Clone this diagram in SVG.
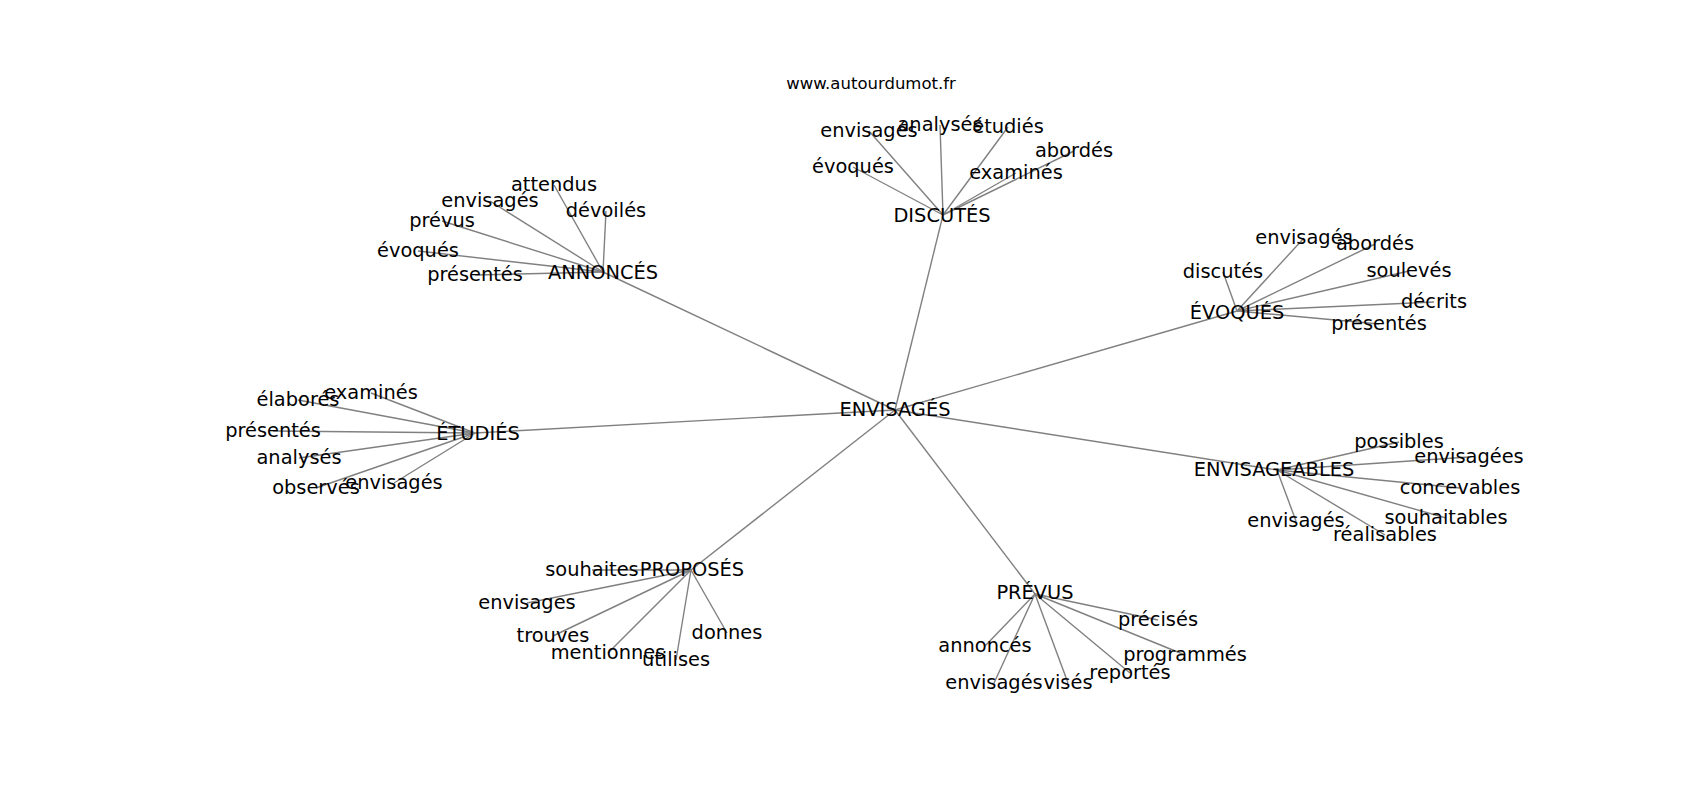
<svg xmlns="http://www.w3.org/2000/svg" width="1700" height="800" viewBox="0 0 1700 800">
<style>
.e{stroke:#808080;stroke-width:1.4;fill:none}
text{font-family:"DejaVu Sans","Liberation Sans",sans-serif;font-size:19.4px;fill:#000;text-anchor:middle}
.w{font-size:16.5px}
</style>
<rect width="1700" height="800" fill="#fff"/>
<g id="connectors">
<line class="e" x1="895" y1="410" x2="603" y2="272"/>
<line class="e" x1="895" y1="410" x2="943" y2="215"/>
<line class="e" x1="895" y1="410" x2="1237" y2="311"/>
<line class="e" x1="895" y1="410" x2="475" y2="433"/>
<line class="e" x1="895" y1="410" x2="1277" y2="470"/>
<line class="e" x1="895" y1="410" x2="691" y2="570"/>
<line class="e" x1="895" y1="410" x2="1035" y2="594"/>
<line class="e" x1="603" y1="272" x2="554" y2="185"/>
<line class="e" x1="603" y1="272" x2="490" y2="201"/>
<line class="e" x1="603" y1="272" x2="442" y2="221"/>
<line class="e" x1="603" y1="272" x2="606" y2="211"/>
<line class="e" x1="603" y1="272" x2="418" y2="251"/>
<line class="e" x1="603" y1="272" x2="475" y2="275"/>
<line class="e" x1="943" y1="215" x2="869" y2="131"/>
<line class="e" x1="943" y1="215" x2="940" y2="125"/>
<line class="e" x1="943" y1="215" x2="1008" y2="127"/>
<line class="e" x1="943" y1="215" x2="1074" y2="151"/>
<line class="e" x1="943" y1="215" x2="853" y2="167"/>
<line class="e" x1="943" y1="215" x2="1016" y2="173"/>
<line class="e" x1="1237" y1="311" x2="1304" y2="238"/>
<line class="e" x1="1237" y1="311" x2="1375" y2="244"/>
<line class="e" x1="1237" y1="311" x2="1223" y2="272"/>
<line class="e" x1="1237" y1="311" x2="1409" y2="271"/>
<line class="e" x1="1237" y1="311" x2="1434" y2="302"/>
<line class="e" x1="1237" y1="311" x2="1379" y2="324"/>
<line class="e" x1="475" y1="433" x2="298" y2="400"/>
<line class="e" x1="475" y1="433" x2="371" y2="393"/>
<line class="e" x1="475" y1="433" x2="273" y2="431"/>
<line class="e" x1="475" y1="433" x2="299" y2="458"/>
<line class="e" x1="475" y1="433" x2="316" y2="488"/>
<line class="e" x1="475" y1="433" x2="394" y2="483"/>
<line class="e" x1="1277" y1="470" x2="1399" y2="442"/>
<line class="e" x1="1277" y1="470" x2="1469" y2="457"/>
<line class="e" x1="1277" y1="470" x2="1460" y2="488"/>
<line class="e" x1="1277" y1="470" x2="1446" y2="518"/>
<line class="e" x1="1277" y1="470" x2="1296" y2="521"/>
<line class="e" x1="1277" y1="470" x2="1385" y2="535"/>
<line class="e" x1="691" y1="570" x2="592" y2="570"/>
<line class="e" x1="691" y1="570" x2="527" y2="603"/>
<line class="e" x1="691" y1="570" x2="553" y2="636"/>
<line class="e" x1="691" y1="570" x2="608" y2="653"/>
<line class="e" x1="691" y1="570" x2="676" y2="660"/>
<line class="e" x1="691" y1="570" x2="727" y2="633"/>
<line class="e" x1="1035" y1="594" x2="1158" y2="620"/>
<line class="e" x1="1035" y1="594" x2="1185" y2="655"/>
<line class="e" x1="1035" y1="594" x2="985" y2="646"/>
<line class="e" x1="1035" y1="594" x2="994" y2="683"/>
<line class="e" x1="1035" y1="594" x2="1068" y2="683"/>
<line class="e" x1="1035" y1="594" x2="1130" y2="673"/>
</g>
<g id="site"><text class="w" x="871" y="89">www.autourdumot.fr</text></g>
<g id="n-envisages-hub"><text x="895" y="416">ENVISAGÉS</text></g>
<g id="n-annonces"><text x="603" y="279">ANNONCÉS</text></g>
<g id="n-annonces-attendus"><text x="554" y="191">attendus</text></g>
<g id="n-annonces-envisages"><text x="490" y="207">envisagés</text></g>
<g id="n-annonces-prevus"><text x="442" y="227">prévus</text></g>
<g id="n-annonces-devoiles"><text x="606" y="217">dévoilés</text></g>
<g id="n-annonces-evoques"><text x="418" y="257">évoqués</text></g>
<g id="n-annonces-presentes"><text x="475" y="281">présentés</text></g>
<g id="n-discutes"><text x="942" y="222">DISCUTÉS</text></g>
<g id="n-discutes-envisages"><text x="869" y="137">envisagés</text></g>
<g id="n-discutes-analyses"><text x="940" y="131">analysés</text></g>
<g id="n-discutes-etudies"><text x="1008" y="133">étudiés</text></g>
<g id="n-discutes-abordes"><text x="1074" y="157">abordés</text></g>
<g id="n-discutes-evoques"><text x="853" y="173">évoqués</text></g>
<g id="n-discutes-examines"><text x="1016" y="179">examinés</text></g>
<g id="n-evoques"><text x="1237" y="319">ÉVOQUÉS</text></g>
<g id="n-evoques-envisages"><text x="1304" y="244">envisagés</text></g>
<g id="n-evoques-abordes"><text x="1375" y="250">abordés</text></g>
<g id="n-evoques-discutes"><text x="1223" y="278">discutés</text></g>
<g id="n-evoques-souleves"><text x="1409" y="277">soulevés</text></g>
<g id="n-evoques-decrits"><text x="1434" y="308">décrits</text></g>
<g id="n-evoques-presentes"><text x="1379" y="330">présentés</text></g>
<g id="n-etudies"><text x="478" y="440">ÉTUDIÉS</text></g>
<g id="n-etudies-elabores"><text x="298" y="406">élaborés</text></g>
<g id="n-etudies-examines"><text x="371" y="399">examinés</text></g>
<g id="n-etudies-presentes"><text x="273" y="437">présentés</text></g>
<g id="n-etudies-analyses"><text x="299" y="464">analysés</text></g>
<g id="n-etudies-observes"><text x="316" y="494">observés</text></g>
<g id="n-etudies-envisages"><text x="394" y="489">envisagés</text></g>
<g id="n-envisageables"><text x="1274" y="476">ENVISAGEABLES</text></g>
<g id="n-envisageables-possibles"><text x="1399" y="448">possibles</text></g>
<g id="n-envisageables-envisagees"><text x="1469" y="463">envisagées</text></g>
<g id="n-envisageables-concevables"><text x="1460" y="494">concevables</text></g>
<g id="n-envisageables-souhaitables"><text x="1446" y="524">souhaitables</text></g>
<g id="n-envisageables-envisages"><text x="1296" y="527">envisagés</text></g>
<g id="n-envisageables-realisables"><text x="1385" y="541">réalisables</text></g>
<g id="n-proposes"><text x="692" y="576">PROPOSÉS</text></g>
<g id="n-proposes-souhaites"><text x="592" y="576">souhaites</text></g>
<g id="n-proposes-envisages"><text x="527" y="609">envisages</text></g>
<g id="n-proposes-trouves"><text x="553" y="642">trouves</text></g>
<g id="n-proposes-mentionnes"><text x="608" y="659">mentionnes</text></g>
<g id="n-proposes-utilises"><text x="676" y="666">utilises</text></g>
<g id="n-proposes-donnes"><text x="727" y="639">donnes</text></g>
<g id="n-prevus"><text x="1035" y="599">PRÉVUS</text></g>
<g id="n-prevus-precises"><text x="1158" y="626">précisés</text></g>
<g id="n-prevus-programmes"><text x="1185" y="661">programmés</text></g>
<g id="n-prevus-annonces"><text x="985" y="652">annoncés</text></g>
<g id="n-prevus-envisages"><text x="994" y="689">envisagés</text></g>
<g id="n-prevus-vises"><text x="1068" y="689">visés</text></g>
<g id="n-prevus-reportes"><text x="1130" y="679">reportés</text></g>
</svg>
